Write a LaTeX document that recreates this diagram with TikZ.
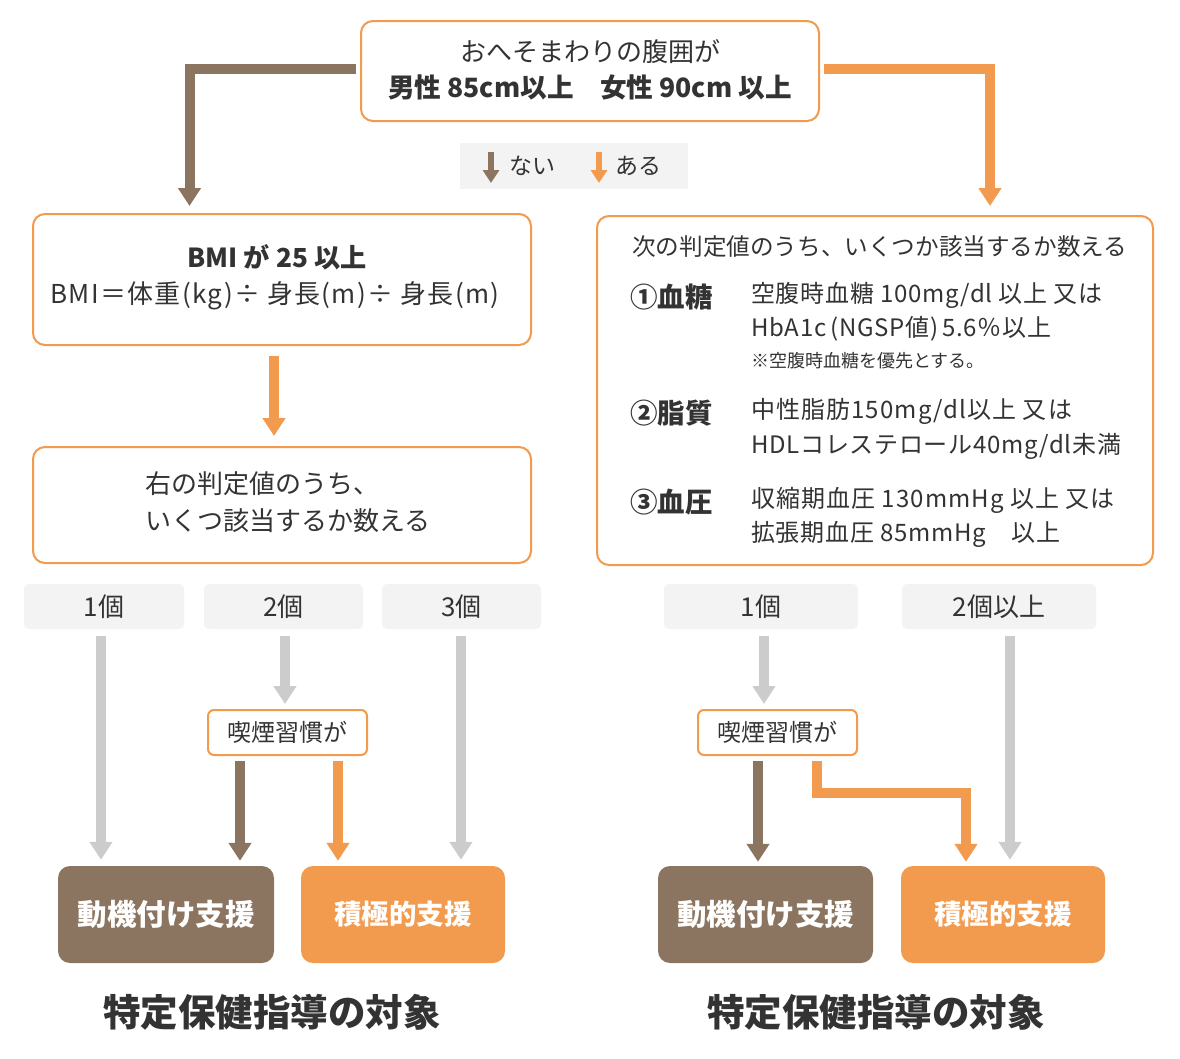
\documentclass[tikz,border=0pt]{standalone}
\usepackage{fontspec}
\setmainfont{Noto Sans CJK JP}
\usetikzlibrary{arrows.meta,calc}
\definecolor{orangeA}{HTML}{F29A4E}
\definecolor{brownA}{HTML}{8C7560}
\definecolor{grayA}{HTML}{CCCCCC}
\definecolor{lightA}{HTML}{F3F3F3}
\definecolor{txtA}{HTML}{333333}
\newcommand\fsz[1]{\fontsize{#1}{#1}\selectfont}
\newcommand\lsp[1]{\addfontfeature{LetterSpace=#1}}
\tikzset{
  box/.style={draw=orangeA, line width=2pt, rounded corners=12pt, fill=white, inner sep=0pt},
  cnt/.style={fill=lightA, rounded corners=5pt, text=txtA, font=\fsz{26}, inner sep=0pt, minimum height=45pt},
  smk/.style={draw=orangeA, line width=2pt, rounded corners=6pt, fill=white, text=txtA, font=\fsz{24}, inner sep=0pt, minimum width=159pt, minimum height=45pt},
  res/.style={rounded corners=12pt, text=white, inner sep=0pt, minimum height=97pt},
  txt/.style={text=txtA, inner sep=0pt},
  rline/.style={txt, anchor=west, font=\fsz{24}\lsp{3}},
  conn/.style={line width=10pt, -{Triangle[width=22pt,length=18pt]}},
  title/.style={text=txtA, font=\bfseries\fsz{37.5}, inner sep=0pt},
}
\begin{document}
\begin{tikzpicture}[x=1pt,y=-1pt]
\useasboundingbox (0,0) rectangle (1180,1058);
% top box
\node[box, minimum width=458pt, minimum height=100pt] (T) at (590,71) {};
\node[txt, font=\fsz{26}] (t1) at (590,52) {おへそまわりの腹囲が};
\node[txt, font=\bfseries\fsz{26.6}] (t2) at (590,87) {男性 85cm以上　女性 90cm 以上};
% legend
\node[fill=lightA, minimum width=228pt, minimum height=46pt, inner sep=0pt] (L) at (574,166) {};
\draw[brownA, line width=6pt, -{Triangle[width=16pt,length=13pt]}] ([shift={(-83pt,14pt)}]L.center) -- ([shift={(-83pt,-17pt)}]L.center);
\draw[orangeA, line width=6pt, -{Triangle[width=16pt,length=13pt]}] ([shift={(25pt,14pt)}]L.center) -- ([shift={(25pt,-17pt)}]L.center);
\node[txt, font=\fsz{23}] (l1) at (532,166) {ない};
\node[txt, font=\fsz{23}] (l2) at (638,166) {ある};
% BMI box
\node[box, minimum width=498pt, minimum height=131pt] (B) at (282,279.5) {};
\node[txt, font=\bfseries\fsz{26.2}] (b1) at (277,257) {BMI が 25 以上};
\node[txt, font=\fsz{26}\lsp{5}] (b2) at (275,296) {BMI＝体重(kg)÷ 身長(m)÷ 身長(m)};
% count box
\node[box, minimum width=498pt, minimum height=116pt] (C) at (282,505) {};
\node[txt, anchor=west, font=\fsz{26}] (c1t) at (145,484) {右の判定値のうち、};
\node[txt, anchor=west, font=\fsz{26}] (c2t) at (145,521) {いくつ該当するか数える};
% right box
\node[box, minimum width=556pt, minimum height=349pt] (R) at (875,390.5) {};
\node[txt, anchor=west, font=\fsz{23.6}] (rh) at (632,247) {次の判定値のうち、いくつか該当するか数える};
\node[txt, anchor=west, font=\bfseries\fsz{27.5}] (r1) at (630,297) {①血糖};
\node[txt, anchor=west, font=\bfseries\fsz{27.5}] (r2) at (630,413) {②脂質};
\node[txt, anchor=west, font=\bfseries\fsz{27.5}] (r3) at (630,502) {③血圧};
\node[rline] (r1a) at (751,295) {空腹時血糖 100mg/dl 以上 又は};
\node[rline] (r1b) at (751,329) {HbA1c\,(NGSP値)\,5.6％以上};
\node[txt, anchor=west, font=\fsz{18}] (r1c) at (751,361) {※空腹時血糖を優先とする。};
\node[rline, font=\fsz{24}\lsp{4.5}] (r2a) at (751,411) {中性脂肪150mg/dl以上 又は};
\node[rline] (r2b) at (751,446) {HDLコレステロール40mg/dl未満};
\node[rline, font=\fsz{24}\lsp{4.5}] (r3a) at (751,500) {収縮期血圧 130mmHg 以上 又は};
\node[rline] (r3b) at (751,534) {拡張期血圧 85mmHg　以上};
% count labels
\node[cnt, minimum width=160pt] (k1) at (104,606.5) {1個};
\node[cnt, minimum width=159pt] (k2) at (283.5,606.5) {2個};
\node[cnt, minimum width=159pt] (k3) at (461.5,606.5) {3個};
\node[cnt, minimum width=194pt] (k4) at (761,606.5) {1個};
\node[cnt, minimum width=194pt] (k5) at (999,606.5) {2個以上};
% smoking
\node[smk] (s1) at (287.5,732.5) {喫煙習慣が};
\node[smk] (s2) at (777.5,732.5) {喫煙習慣が};
% results
\node[res, fill=brownA, minimum width=216pt, font=\bfseries\fsz{29.5}] (d1) at (166,914.5) {動機付け支援};
\node[res, fill=orangeA, minimum width=204pt, font=\bfseries\fsz{27.5}] (a1) at (403,914.5) {積極的支援};
\node[res, fill=brownA, minimum width=215pt, font=\bfseries\fsz{29.5}] (d2) at (765.5,914.5) {動機付け支援};
\node[res, fill=orangeA, minimum width=204pt, font=\bfseries\fsz{27.5}] (a2) at (1003,914.5) {積極的支援};
\node[title] (ti1) at (272,1012) {特定保健指導の対象};
\node[title] (ti2) at (876,1012) {特定保健指導の対象};
% connectors from top
\draw[conn, brownA, shorten >=7pt] ([shift={(-4pt,2pt)}]T.west) -| ($(B.north)+(-92.5pt,0pt)$);
\draw[conn, orangeA, shorten >=9pt] ([shift={(4pt,2pt)}]T.east) -| ($(R.north)+(115pt,0pt)$);
\draw[conn, orangeA, shorten >=10pt] ([shift={(-8pt,-10pt)}]B.south) -- ($(B.south |- C.north)+(-8pt,0pt)$);
% left counts
\draw[conn, grayA, shorten >=6pt] ([shift={(-3pt,-7pt)}]k1.south) -- ($(k1.south |- d1.north)+(-3pt,0pt)$);
\draw[conn, grayA, shorten >=5pt] ([shift={(1.5pt,-7pt)}]k2.south) -- ($(k2.south |- s1.north)+(1.5pt,0pt)$);
\draw[conn, grayA, shorten >=6pt] ([shift={(-0.5pt,-7pt)}]k3.south) -- ($(k3.south |- a1.north)+(-0.5pt,0pt)$);
\draw[conn, brownA, shorten >=5pt] ([shift={(-47.5pt,-5pt)}]s1.south) -- ($(s1.south |- d1.north)+(-47.5pt,0pt)$);
\draw[conn, orangeA, shorten >=5pt] ([shift={(50.5pt,-5pt)}]s1.south) -- ($(s1.south |- a1.north)+(50.5pt,0pt)$);
% right counts
\draw[conn, grayA, shorten >=5pt] ([shift={(3pt,-7pt)}]k4.south) -- ($(k4.south |- s2.north)+(3pt,0pt)$);
\draw[conn, grayA, shorten >=6pt] ([shift={(11pt,-7pt)}]k5.south) -- ($(k5.south |- a2.north)+(11pt,0pt)$);
\draw[conn, brownA, shorten >=4pt] ([shift={(-19.5pt,-5pt)}]s2.south) -- ($(s2.south |- d2.north)+(-19.5pt,0pt)$);
\draw[conn, orangeA, shorten >=4pt] ([shift={(39pt,-5pt)}]s2.south) |- ($(a2.north)+(-37pt,73pt)$) -- ($(a2.north)+(-37pt,0pt)$);
\end{tikzpicture}
\end{document}
